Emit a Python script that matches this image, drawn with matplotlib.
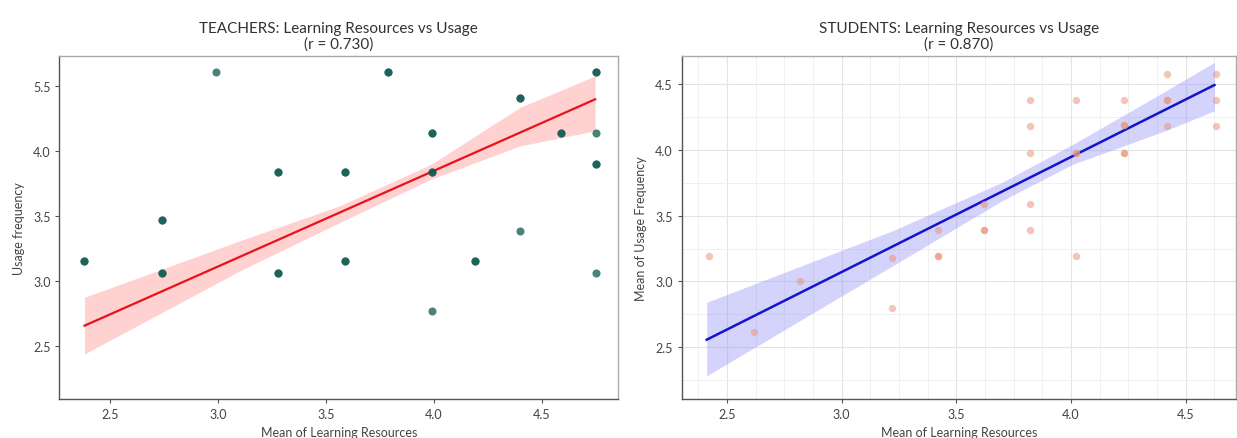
import numpy as np
import matplotlib
matplotlib.use("Agg")
import matplotlib.pyplot as plt
from matplotlib.ticker import AutoMinorLocator, FixedLocator, FixedFormatter

plt.rcParams["font.family"] = ["Lato", "DejaVu Sans"]

# Teachers: mean of learning resources vs usage frequency (count = overlapping answers)
teacher_x = [2.38, 2.74, 2.74, 2.99, 3.28, 3.28, 3.79, 3.59, 3.59, 3.99,
             3.99, 3.99, 4.19, 4.40, 4.40, 4.59, 4.75, 4.75, 4.75, 4.75]
teacher_y = [3.15, 3.47, 3.06, 4.61, 3.84, 3.06, 4.61, 3.84, 3.15, 4.14,
             3.84, 2.77, 3.15, 4.41, 3.38, 4.14, 4.61, 4.14, 3.90, 3.06]
teacher_count = [2, 2, 2, 1, 2, 2, 2, 2, 2, 2,
                 2, 1, 2, 2, 1, 2, 2, 1, 2, 1]
teacher_fit_x = [2.382, 4.748]
teacher_fit_y = [2.653, 4.400]
teacher_band_x = [2.382, 3.103, 3.566, 3.990, 4.400, 4.748]
teacher_band_lo = [2.435, 3.077, 3.450, 3.785, 4.040, 4.157]
teacher_band_hi = [2.872, 3.309, 3.579, 3.900, 4.338, 4.580]
teacher_r = 0.730
teacher_yticks = [2.5, 3.0, 3.5, 4.0, 4.5]
teacher_ytick_labels = ["2.5", "3.0", "3.5", "4.0", "5.5"]

# Students
student_x = [2.42, 2.62, 2.82, 3.22, 3.22, 3.42, 3.42, 3.62, 3.62,
             3.82, 3.82, 3.82, 3.82, 3.82, 4.02, 4.02, 4.02,
             4.23, 4.23, 4.23, 4.42, 4.42, 4.42, 4.63, 4.63, 4.63]
student_y = [3.19, 2.61, 3.00, 3.18, 2.80, 3.39, 3.19, 3.39, 3.59,
             4.38, 4.18, 3.98, 3.59, 3.39, 4.38, 3.98, 3.19,
             4.38, 4.19, 3.98, 4.58, 4.38, 4.18, 4.58, 4.38, 4.18]
student_count = [1, 1, 1, 1, 1, 1, 2, 2, 1,
                 1, 1, 1, 1, 1, 1, 2, 1,
                 1, 2, 2, 1, 2, 1, 1, 1, 1]
student_fit_x = [2.412, 4.625]
student_fit_y = [2.555, 4.496]
student_band_x = [2.412, 3.223, 3.700, 4.004, 4.412, 4.625]
student_band_lo = [2.280, 3.119, 3.615, 3.890, 4.148, 4.300]
student_band_hi = [2.840, 3.386, 3.755, 4.040, 4.450, 4.669]
student_r = 0.870

fig = plt.figure(figsize=(12.37, 4.39), dpi=100)
ax1 = fig.add_axes([0.0481, 0.0888, 0.4515, 0.7813])
ax2 = fig.add_axes([0.5511, 0.0888, 0.4481, 0.7813])

# ---- teachers panel
tx = np.repeat(teacher_x, teacher_count)
ty = np.repeat(teacher_y, teacher_count)
ax1.fill_between(teacher_band_x, teacher_band_lo, teacher_band_hi,
                 color="#ff9a9a", alpha=0.45, linewidth=0, zorder=1)
ax1.plot(teacher_fit_x, teacher_fit_y, color="#e8121b", linewidth=1.6, zorder=2)
ax1.scatter(tx, ty, s=34, color="#0e5a50", alpha=0.75, linewidths=0, zorder=3)
ax1.set_xlim(2.266, 4.854)
ax1.set_ylim(2.087, 4.734)
ax1.set_xticks([2.5, 3.0, 3.5, 4.0, 4.5])
ax1.yaxis.set_major_locator(FixedLocator(teacher_yticks))
ax1.yaxis.set_major_formatter(FixedFormatter(teacher_ytick_labels))
ax1.set_title(f"TEACHERS: Learning Resources vs Usage\n(r = {teacher_r:.3f})",
              fontsize=11, color="#333333", linespacing=1.15, pad=6)
ax1.set_xlabel("Mean of Learning Resources", fontsize=9, color="#444444", labelpad=4)
ax1.set_ylabel("Usage frequency", fontsize=9, color="#444444", labelpad=6)

# ---- students panel
sx = np.repeat(student_x, student_count)
sy = np.repeat(student_y, student_count)
ax2.set_axisbelow(True)
ax2.xaxis.set_minor_locator(AutoMinorLocator(4))
ax2.yaxis.set_minor_locator(AutoMinorLocator(2))
ax2.grid(True, which="major", color="#e4e4e4", linewidth=0.8)
ax2.grid(True, which="minor", color="#eeeeee", linewidth=0.6)
ax2.tick_params(which="minor", length=0)
ax2.fill_between(student_band_x, student_band_lo, student_band_hi,
                 color="#8c8cf5", alpha=0.38, linewidth=0, zorder=1)
ax2.plot(student_fit_x, student_fit_y, color="#1515c8", linewidth=1.8, zorder=2)
ax2.scatter(sx, sy, s=28, color="#ec9478", alpha=0.55, linewidths=0, zorder=3)
ax2.set_xlim(2.303, 4.719)
ax2.set_ylim(2.103, 4.717)
ax2.set_xticks([2.5, 3.0, 3.5, 4.0, 4.5])
ax2.set_yticks([2.5, 3.0, 3.5, 4.0, 4.5])
ax2.set_title(f"STUDENTS: Learning Resources vs Usage\n(r = {student_r:.3f})",
              fontsize=11, color="#333333", linespacing=1.15, pad=6)
ax2.set_xlabel("Mean of Learning Resources", fontsize=9, color="#444444", labelpad=4)
ax2.set_ylabel("Mean of Usage Frequency", fontsize=9, color="#444444", labelpad=6)

for ax in (ax1, ax2):
    ax.tick_params(which="major", labelsize=9, labelcolor="#444444",
                   color="#555555", length=3, width=0.8)
    for side in ("left", "bottom"):
        ax.spines[side].set_color("#555555")
        ax.spines[side].set_linewidth(1.0)
    for side in ("top", "right"):
        ax.spines[side].set_color("#aaaaaa")
        ax.spines[side].set_linewidth(1.0)

fig.savefig("out.png", dpi=100)
